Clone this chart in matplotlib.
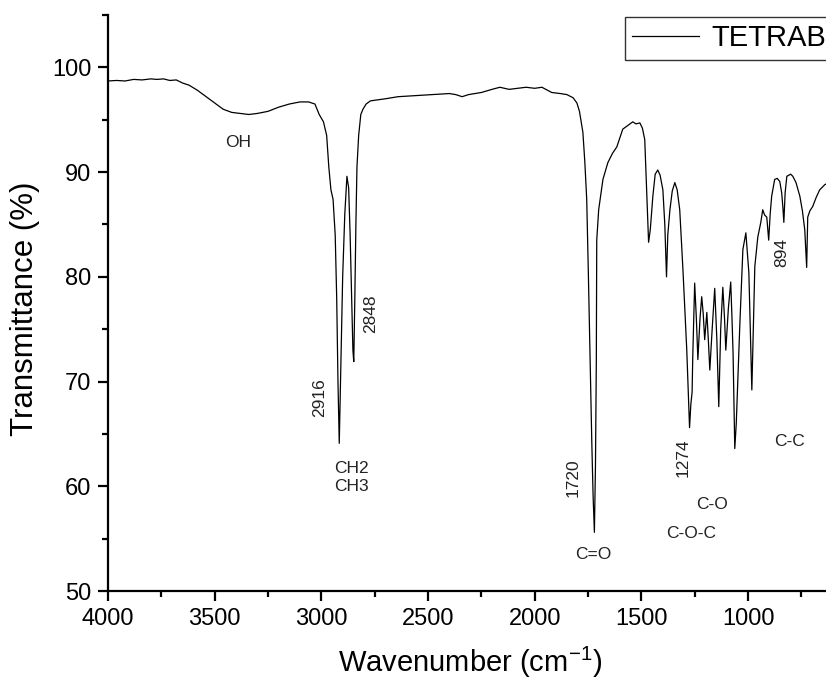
import numpy as np
import matplotlib
matplotlib.use("Agg")
import matplotlib.pyplot as plt
from matplotlib.ticker import MultipleLocator, FixedLocator

plt.rcParams["font.family"] = ["Liberation Sans", "DejaVu Sans"]

# spectrum (wavenumber in cm-1, transmittance in %)
wavenumber = [
    4000, 3960, 3920, 3880, 3840, 3800, 3770, 3740, 3710, 3680, 3650, 3620,
    3580, 3540, 3500, 3460, 3420, 3380, 3340, 3300, 3250, 3200, 3150, 3100,
    3060, 3030, 3010, 2990, 2975, 2965, 2955, 2945, 2935, 2928, 2922, 2916,
    2910, 2900, 2890, 2880, 2872, 2865, 2858, 2852, 2848, 2843, 2838, 2833,
    2825, 2815, 2805, 2790, 2770, 2700, 2640, 2560, 2480, 2400, 2370, 2340,
    2310, 2250, 2200, 2163, 2120, 2080, 2040, 2000, 1966, 1920, 1880, 1849,
    1820, 1802, 1790, 1774, 1765, 1756, 1748, 1740, 1732, 1726, 1720, 1715,
    1711, 1709, 1700, 1680, 1657, 1635, 1615, 1587, 1560, 1540, 1525, 1507,
    1495, 1484, 1475, 1466, 1458, 1446, 1435, 1423, 1412, 1399, 1390, 1382,
    1376, 1366, 1355, 1343, 1332, 1320, 1305, 1287, 1278, 1274, 1268, 1262,
    1259, 1250, 1242, 1235, 1225, 1217, 1210, 1203, 1193, 1186, 1179, 1168,
    1156, 1146, 1137, 1128, 1118, 1110, 1104, 1092, 1081, 1075, 1070, 1066,
    1062, 1055, 1048, 1038, 1024, 1010, 996, 989, 982, 975, 968, 954,
    940, 931, 922, 912, 903, 896, 889, 875, 863, 851, 842, 836,
    832, 826, 818, 800, 790, 775, 757, 745, 734, 725, 720, 710,
    697, 680, 664, 640, 620,
]
transmittance = [
    98.7, 98.75, 98.7, 98.85, 98.8, 98.9, 98.85, 98.9, 98.75, 98.8, 98.5, 98.3,
    97.8, 97.2, 96.6, 96.0, 95.7, 95.6, 95.5, 95.6, 95.8, 96.2, 96.5, 96.7,
    96.7, 96.5, 95.5, 94.8, 93.5, 90.5, 88.3, 87.4, 84.0, 78.0, 70.0, 64.1,
    70.0, 80.0, 86.0, 89.6, 88.5, 84.0, 78.0, 73.0, 71.9, 78.0, 85.0, 90.5,
    93.5, 95.5, 96.0, 96.5, 96.8, 97.0, 97.2, 97.3, 97.4, 97.5, 97.4, 97.2,
    97.4, 97.6, 97.9, 98.1, 97.9, 98.0, 98.1, 98.0, 98.1, 97.6, 97.5, 97.4,
    97.1, 96.6, 95.8, 93.8, 91.0, 87.4, 80.0, 72.0, 64.0, 59.0, 55.6, 62.0,
    72.0, 83.5, 86.4, 89.3, 90.9, 91.8, 92.4, 94.1, 94.5, 94.8, 94.6, 94.7,
    94.2, 93.1, 88.3, 83.3, 84.5, 87.7, 89.8, 90.2, 89.7, 88.3, 85.0, 80.0,
    84.0, 86.4, 88.2, 89.0, 88.3, 86.4, 80.7, 73.0, 68.0, 65.6, 67.8, 69.0,
    72.3, 79.4, 76.0, 72.1, 76.0, 78.1, 76.5, 74.0, 76.6, 74.0, 71.1, 75.0,
    78.9, 74.0, 67.6, 75.0, 79.0, 76.0, 73.0, 77.0, 79.5, 76.0, 72.7, 68.0,
    63.6, 66.0, 70.0, 75.6, 82.6, 84.2, 80.4, 75.0, 69.2, 75.0, 81.0, 83.8,
    85.2, 86.4, 85.9, 85.7, 83.5, 86.0, 87.7, 89.3, 89.4, 89.1, 88.0, 86.5,
    85.2, 88.0, 89.6, 89.8, 89.6, 89.0, 87.7, 86.3, 84.5, 80.9, 85.7, 86.3,
    86.7, 87.6, 88.3, 88.8, 89.0,
]

# band annotations: text, x, y, rotation
band_text = ["OH", "2916", "2848", "CH2\nCH3", "1720", "C=O", "1274", "C-O", "C-O-C", "C-C", "894"]
band_x = [3390, 3007, 2768, 2857, 1821, 1727, 1306, 1170, 1268, 804, 842]
band_y = [92.8, 68.5, 76.5, 60.8, 60.8, 53.5, 62.7, 58.3, 55.5, 64.3, 82.3]
band_rot = [0, 90, 90, 0, 90, 0, 90, 0, 0, 0, 90]

x_major = [4000, 3500, 3000, 2500, 2000, 1500, 1000]

fig = plt.figure(figsize=(8.26, 6.82), dpi=100)
# axes run past the right edge of the figure, as in the cropped original
ax = fig.add_axes([108 / 826, 91 / 682, 768 / 826, 576 / 682])

ax.plot(wavenumber, transmittance, color="black", lw=0.9, label="TETRAB")

for t, x, y, r in zip(band_text, band_x, band_y, band_rot):
    ax.text(x, y, t, rotation=r, ha="center", va="center", fontsize=12.5,
            color="#222222", linespacing=1.25)

ax.set_xlim(4000, 400)
ax.set_ylim(50, 105)
ax.xaxis.set_major_locator(FixedLocator(x_major))
ax.xaxis.set_minor_locator(MultipleLocator(250))
ax.yaxis.set_major_locator(MultipleLocator(10))
ax.yaxis.set_minor_locator(MultipleLocator(5))

ax.spines["top"].set_visible(False)
ax.spines["right"].set_visible(False)
ax.spines["left"].set_linewidth(1.6)
ax.spines["bottom"].set_linewidth(1.6)
ax.tick_params(which="major", direction="out", length=7, width=1.6, labelsize=17, pad=5)
ax.tick_params(which="minor", direction="out", length=4, width=1.6)

ax.set_xlabel("Wavenumber (cm$^{\\mathregular{-1}}$)", fontsize=21)
ax.set_ylabel("Transmittance (%)", fontsize=22.5)
ax.xaxis.set_label_coords(0.471, -0.124)
ax.xaxis.label.set_verticalalignment("center")
ax.yaxis.set_label_coords(-0.108, 0.49)
ax.yaxis.label.set_verticalalignment("center")

leg = ax.legend(loc="upper left", bbox_to_anchor=(625 / 826, 1 - 17 / 682),
                bbox_transform=fig.transFigure, fontsize=21, frameon=True,
                fancybox=False, borderpad=0.25, handlelength=2.3,
                handletextpad=0.4, borderaxespad=0)
leg.get_frame().set_edgecolor("black")
leg.get_frame().set_linewidth(1.0)

fig.savefig("out.png", dpi=100)
